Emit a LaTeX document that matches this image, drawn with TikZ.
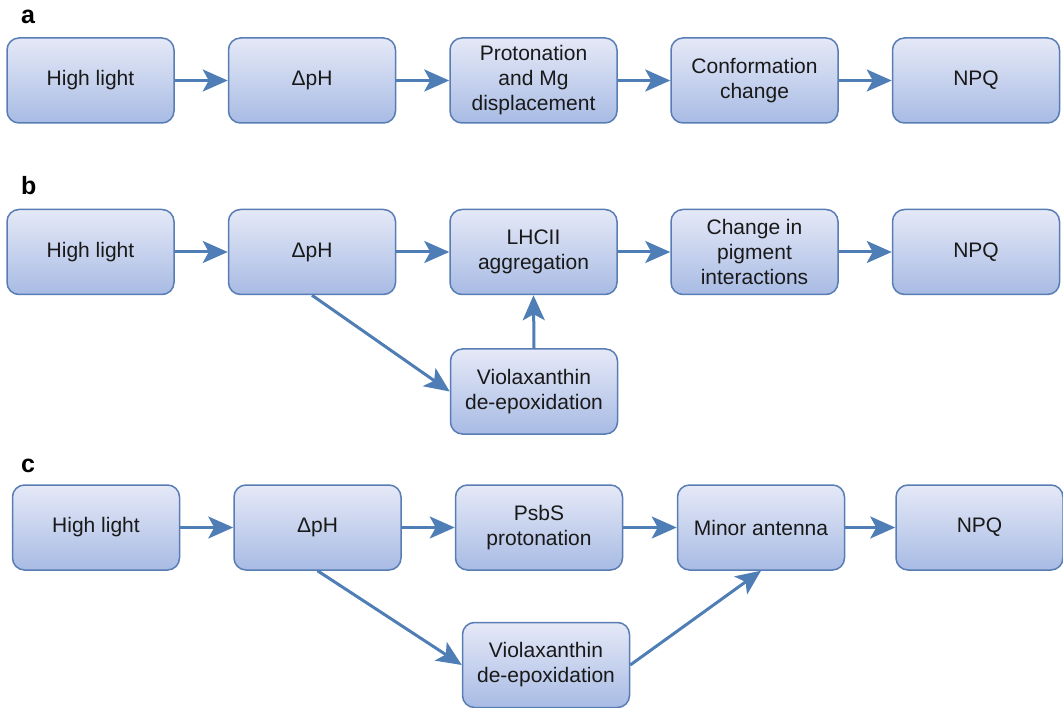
\documentclass[tikz,border=0pt]{standalone}
\usepackage{fontspec}
\setmainfont{Liberation Sans}
\usetikzlibrary{arrows.meta}
\definecolor{boxborder}{RGB}{88,124,180}
\definecolor{boxtop}{RGB}{229,233,247}
\definecolor{boxbottom}{RGB}{168,187,228}
\definecolor{arrowcol}{RGB}{79,125,181}
\definecolor{txt}{RGB}{25,25,25}
\tikzset{
  flowbox/.style={draw=boxborder, line width=1.5pt, rounded corners=12pt,
    top color=boxtop, bottom color=boxbottom, minimum width=167pt,
    minimum height=85pt, inner sep=0pt, align=center, text=txt,
    font=\fontsize{21}{25}\selectfont},
  flowarrow/.style={draw=arrowcol, line width=3pt,
    -{Stealth[length=25pt,width=22pt,inset=6pt]}},
  panel/.style={anchor=base west, inner sep=0pt, text=black,
    font=\fontsize{25}{30}\selectfont\bfseries}
}
\begin{document}
\begin{tikzpicture}[x=1pt,y=-1pt]
\useasboundingbox (0,0) rectangle (1063,708);
% panel labels
\node[panel] (la) at (21,24) {a};
\node[panel] (lb) at (21,195) {b};
\node[panel] (lc) at (21,472) {c};
% row a
\node[flowbox] (a1) at (90.5,80.5) {High light};
\node[flowbox] (a2) at (312,80.5) {ΔpH};
\node[flowbox] (a3) at (533.5,80.5) {Protonation\\and Mg\\displacement};
\node[flowbox] (a4) at (754.5,80.5) {Conformation\\change};
\node[flowbox] (a5) at (976,80.5) {NPQ};
\draw[flowarrow] (a1) -- (a2);
\draw[flowarrow] (a2) -- (a3);
\draw[flowarrow] (a3) -- (a4);
\draw[flowarrow] (a4) -- (a5);
% row b
\node[flowbox] (b1) at (90.5,252) {High light};
\node[flowbox] (b2) at (312,252) {\raisebox{4pt}{ΔpH}};
\node[flowbox] (b3) at (533.5,252) {LHCII\\aggregation};
\node[flowbox] (b4) at (754.5,252) {Change in\\pigment\\interactions};
\node[flowbox] (b5) at (976,252) {NPQ};
\node[flowbox] (b6) at (534,391.5) {Violaxanthin\\de-epoxidation};
\draw[flowarrow] (b1) -- (b2);
\draw[flowarrow] (b2) -- (b3);
\draw[flowarrow] (b3) -- (b4);
\draw[flowarrow] (b4) -- (b5);
\draw[flowarrow] (b2.south) -- (b6.west);
\draw[flowarrow] (b6.north) -- (b3.south);
% row c
\node[flowbox] (c1) at (96,527.5) {High light};
\node[flowbox] (c2) at (317.5,527.5) {ΔpH};
\node[flowbox] (c3) at (539,527.5) {PsbS\\protonation};
\node[flowbox] (c4) at (761,527.5) {Minor antenna};
\node[flowbox] (c5) at (979.5,527.5) {NPQ};
\node[flowbox] (c6) at (546,665) {Violaxanthin\\de-epoxidation};
\draw[flowarrow] (c1) -- (c2);
\draw[flowarrow] (c2) -- (c3);
\draw[flowarrow] (c3) -- (c4);
\draw[flowarrow] (c4) -- (c5);
\draw[flowarrow] (c2.south) -- (c6.west);
\draw[flowarrow] (c6.east) -- (c4.south);
\end{tikzpicture}
\end{document}
